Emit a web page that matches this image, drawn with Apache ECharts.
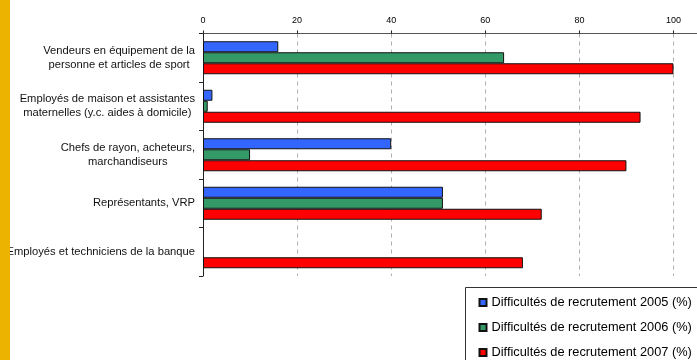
<!DOCTYPE html>
<html>
<head>
<meta charset="utf-8">
<script src="https://cdn.jsdelivr.net/npm/echarts@6/dist/echarts.min.js"></script>
<style>
  html, body { margin: 0; padding: 0; background: #ffffff; }
  #chart { width: 697px; height: 360px; }
</style>
</head>
<body>
<div id="chart"></div>
<script>
// Occupations, top to bottom
const categories = [
  'Vendeurs en équipement de la\npersonne et articles de sport',
  'Employés de maison et assistantes\nmaternelles (y.c. aides à domicile)',
  'Chefs de rayon, acheteurs,\nmarchandiseurs',
  'Représentants, VRP',
  'Employés et techniciens de la banque'
];

// Recruitment difficulty shares, in %
const seriesNames = [
  'Difficultés de recrutement 2005 (%)',
  'Difficultés de recrutement 2006 (%)',
  'Difficultés de recrutement 2007 (%)'
];
const values2005 = [16, 2, 40, 51, null];
const values2006 = [64, 1, 10, 51, null];
const values2007 = [100, 93, 90, 72, 68];

// Value axis ticks
const xTicks = [0, 20, 40, 60, 80, 100];
const xMax = 105;

const colors = ['#3366FF', '#339966', '#FF0000'];
const FONT = 'Liberation Sans, Arial, sans-serif';

const chart = echarts.init(document.getElementById('chart'), null, { renderer: 'canvas' });

// Multi-line labels: lines centred on each other, block right-aligned to the axis
function centeredLines(text) {
  return text.split('\n').map(l => '{c|' + l + '}').join('\n');
}

const seriesData = [values2005, values2006, values2007];

chart.setOption({
  animation: false,
  backgroundColor: '#ffffff',
  textStyle: { fontFamily: FONT },
  grid: { left: 203, top: 33.5, width: 494.5, bottom: 84, containLabel: false },
  xAxis: {
    type: 'value',
    position: 'top',
    min: xTicks[0],
    max: xMax,
    interval: xTicks[1] - xTicks[0],
    axisLine: { show: true, lineStyle: { color: '#555555', width: 1 } },
    axisTick: { show: true, length: 3, lineStyle: { color: '#222222' } },
    axisLabel: {
      showMaxLabel: false,
      margin: 8,
      fontSize: 9,
      color: '#000000',
      fontFamily: FONT,
      formatter: v => (xTicks.indexOf(v) >= 0 ? String(v) : '')
    },
    splitLine: {
      show: true,
      lineStyle: { color: '#b0b0b0', type: [4, 4], width: 1 }
    }
  },
  yAxis: {
    type: 'category',
    inverse: true,
    data: categories,
    axisLine: { show: true, lineStyle: { color: '#222222', width: 1 } },
    axisTick: { show: true, length: 4, inside: false, lineStyle: { color: '#222222' } },
    axisLabel: {
      margin: 8,
      color: '#111111',
      fontFamily: FONT,
      fontSize: 11.2,
      lineHeight: 14,
      formatter: centeredLines,
      rich: {
        c: { align: 'center', fontSize: 11.2, lineHeight: 14, color: '#111111', fontFamily: FONT }
      }
    },
    splitLine: { show: false }
  },
  legend: {
    orient: 'vertical',
    left: 478.5,
    top: 296,
    padding: 0,
    itemGap: 12,
    itemWidth: 7,
    itemHeight: 7,
    icon: 'rect',
    textStyle: { fontSize: 12.8, color: '#000000', fontFamily: FONT },
    data: seriesNames
  },
  series: seriesNames.map((name, i) => ({
    name: name,
    type: 'bar',
    data: seriesData[i],
    barWidth: 11,
    barGap: '0%',
    itemStyle: { color: colors[i], borderColor: '#111111', borderWidth: 1 }
  })),
  graphic: [
    {
      // legend frame, running past the right and bottom edges
      type: 'rect',
      left: 465,
      top: 287,
      z: 0,
      shape: { x: 0.5, y: 0.5, width: 260, height: 100 },
      style: { fill: '#ffffff', stroke: '#333333', lineWidth: 1 }
    },
    {
      // yellow band on the left edge
      type: 'rect',
      left: 0,
      top: 0,
      z: 100,
      shape: { width: 10, height: 360 },
      style: { fill: '#ECB400' }
    }
  ]
});
</script>
</body>
</html>
